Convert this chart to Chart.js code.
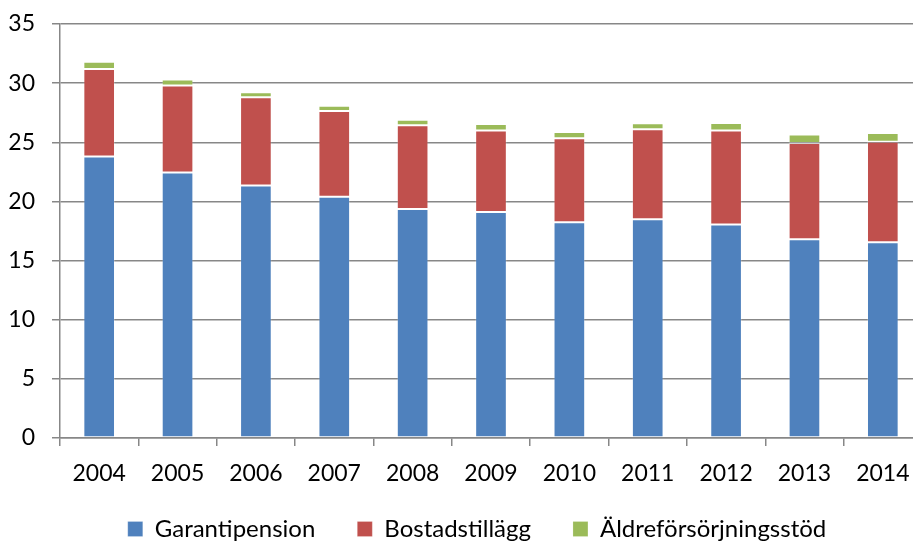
<!DOCTYPE html>
<html>
<head>
<meta charset="utf-8">
<script src="https://cdn.jsdelivr.net/npm/chart.js@4"></script>
<style>
  html, body { margin: 0; padding: 0; background: #fff; overflow: hidden; width: 913px; height: 541px; }
  #wrap { position: absolute; left: 0; top: 0; width: 922px; height: 551px; }
</style>
</head>
<body>
<div id="wrap"><canvas id="c"></canvas></div>
<script>
const categories = ["2004","2005","2006","2007","2008","2009","2010","2011","2012","2013","2014"];
const garantipension = [23.8, 22.45, 21.35, 20.4, 19.35, 19.1, 18.25, 18.5, 18.05, 16.8, 16.55];
const bostadstillagg = [7.4, 7.35, 7.45, 7.25, 7.1, 6.9, 7.1, 7.6, 7.95, 8.15, 8.5];
const aldreforsorjningsstod = [0.6, 0.5, 0.42, 0.43, 0.45, 0.54, 0.51, 0.51, 0.62, 0.7, 0.73];
const seriesNames = ["Garantipension", "Bostadstillägg", "Äldreförsörjningsstöd"];
const yTicks = [0, 5, 10, 15, 20, 25, 30, 35];

const tickFont = { family: "Lato", size: 23 };
const legendFont = { family: "Lato", size: 24 };
const gridColor = "#878787";

function ds(label, data, color) {
  return {
    label, data,
    backgroundColor: color,
    borderColor: "rgba(255,255,255,0.2)",
    borderWidth: 1,
    borderSkipped: false,
    categoryPercentage: 1.0,
    barPercentage: 0.404
  };
}

const adjustLayout = {
  id: "adjustLayout",
  afterLayout(chart) {
    if (chart.legend) { chart.legend.left += 16; chart.legend.right += 16; }
    if (chart.scales.x) { chart.scales.x.bottom += 25; }
  }
};

new Chart(document.getElementById("c"), {
  type: "bar",
  data: {
    labels: categories,
    datasets: [
      ds(seriesNames[0], garantipension, "#4F81BD"),
      ds(seriesNames[1], bostadstillagg, "#C0504D"),
      ds(seriesNames[2], aldreforsorjningsstod, "#9BBB59")
    ]
  },
  plugins: [adjustLayout],
  options: {
    responsive: true,
    maintainAspectRatio: false,
    animation: false,
    layout: { padding: { top: 24, left: 0, right: 0, bottom: 0 } },
    plugins: {
      tooltip: { enabled: false },
      legend: {
        position: "bottom",
        labels: {
          font: legendFont,
          color: "#000",
          boxWidth: 15,
          boxHeight: 15,
          padding: 42
        }
      }
    },
    scales: {
      x: {
        stacked: true,
        grid: { display: true, drawOnChartArea: false, color: gridColor, lineWidth: 1.5, tickLength: 8, offset: true },
        border: { display: true, color: gridColor, width: 1.5 },
        ticks: { font: tickFont, color: "#000", padding: 14, maxRotation: 0 },
        afterFit: s => { s.height = 37; s.paddingLeft = 0; s.paddingRight = 0; }
      },
      y: {
        stacked: true,
        min: 0, max: 35,
        afterBuildTicks: s => { s.ticks = yTicks.map(v => ({ value: v })); },
        grid: { color: gridColor, lineWidth: 1.5, tickLength: 8 },
        border: { display: true, color: gridColor, width: 1.5 },
        ticks: { font: tickFont, color: "#000", padding: 17 },
        afterFit: s => { s.width = 60; s.paddingTop = 0; s.paddingBottom = 0; }
      }
    }
  }
});
</script>
</body>
</html>
